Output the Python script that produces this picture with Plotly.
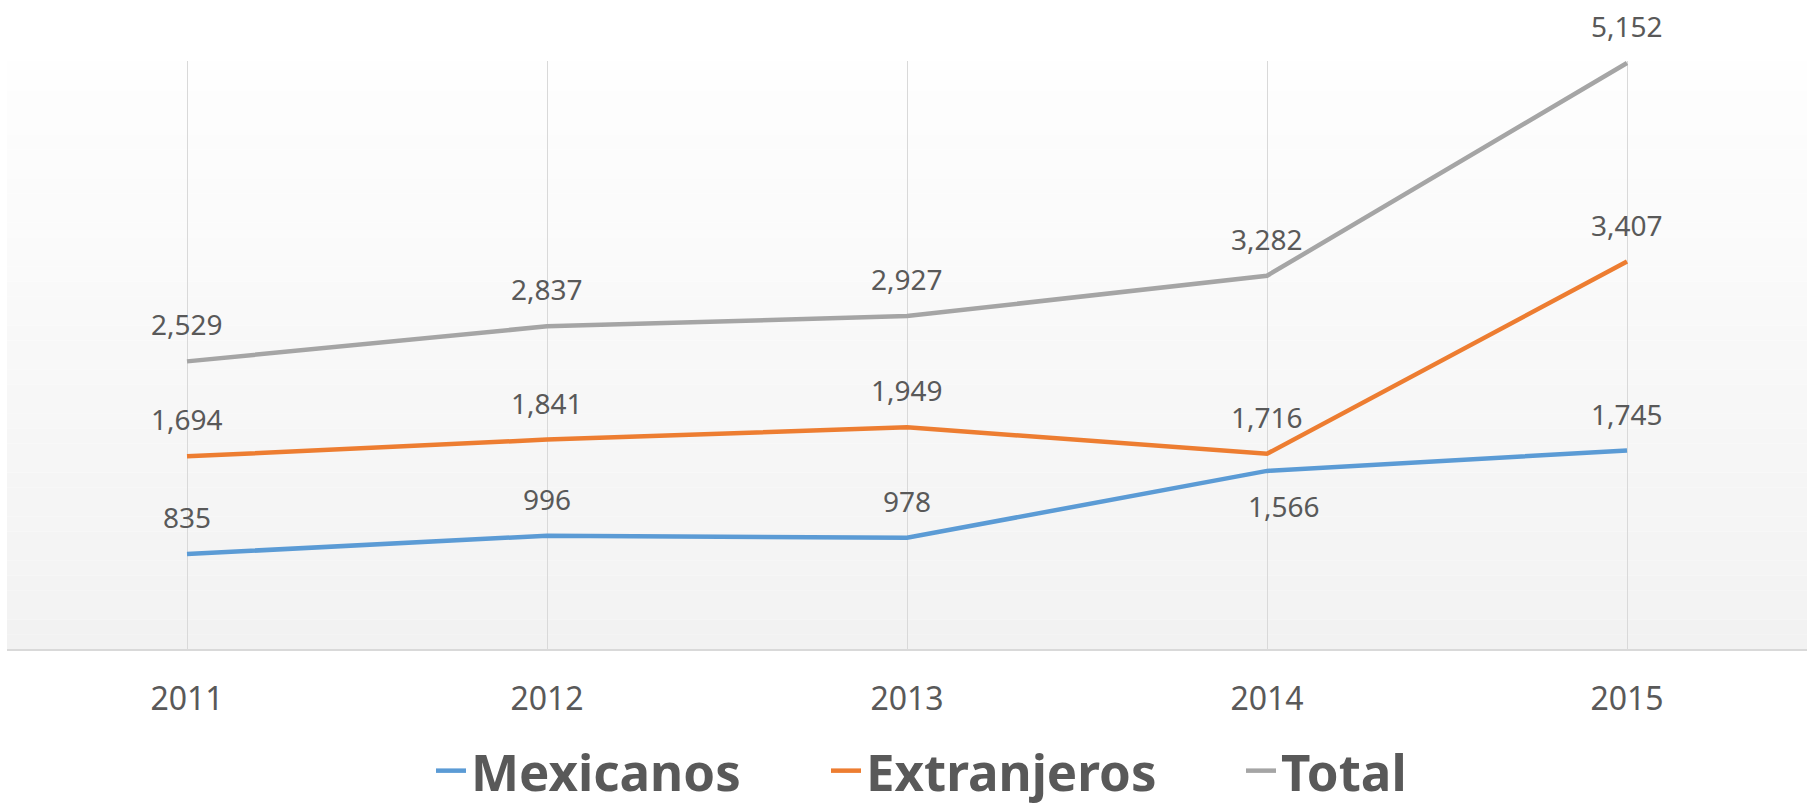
import plotly.graph_objects as go

years = [2011, 2012, 2013, 2014, 2015]
mexicanos = [835, 996, 978, 1566, 1745]
extranjeros = [1694, 1841, 1949, 1716, 3407]
total = [2529, 2837, 2927, 3282, 5152]

series_names = ["Mexicanos", "Extranjeros", "Total"]
series_values = [mexicanos, extranjeros, total]
colors = ["#5B9BD5", "#ED7D31", "#A5A5A5"]
# label placement: +1 above, -1 below
label_side = [
    [1, 1, 1, -1, 1],
    [1, 1, 1, 1, 1],
    [1, 1, 1, 1, 1],
]

TXT = "#595959"
FONT = "Noto Sans"

W, H = 1807, 812
ML, MT, MB = 7, 61, 163
plot_w = W - ML
plot_h = H - MT - MB
baseline = MT + plot_h

legend_ids = ["legend", "legend2", "legend3"]
legend_left_px = [431, 826, 1241]
legend_bottom_px = 811

fig = go.Figure()
for name, vals, col, lid in zip(series_names, series_values, colors, legend_ids):
    fig.add_trace(go.Scatter(
        x=years, y=vals, name=name, mode="lines",
        line=dict(color=col, width=4.5),
        hoverinfo="skip", legend=lid,
    ))

annotations = []
for vals, sides in zip(series_values, label_side):
    for xv, yv, s in zip(years, vals, sides):
        annotations.append(dict(
            x=xv, y=yv, xref="x", yref="y",
            text=f"{yv:,}", showarrow=False,
            font=dict(family=FONT, size=28, color=TXT),
            yshift=37 if s > 0 else -35,
            xshift=0 if s > 0 else 17,
        ))

# vertical gradient background for plot area
shapes = []
n = 40
top_c = (254, 254, 254)
bot_c = (242, 242, 242)
for i in range(n):
    t = (i + 0.5) / n
    c = tuple(round(top_c[k] + (bot_c[k] - top_c[k]) * t) for k in range(3))
    shapes.append(dict(
        type="rect", xref="paper", yref="y domain",
        x0=0, x1=1, y0=1 - (i + 1) / n, y1=1 - i / n,
        fillcolor=f"rgb{c}", line=dict(width=0), layer="below",
    ))

legend_font = dict(family=FONT, size=51, color=TXT, weight="bold")
leg_y = (baseline - legend_bottom_px) / plot_h
legends = {}
for lid, lx in zip(legend_ids, legend_left_px):
    legends[lid] = dict(
        orientation="h", x=(lx - ML) / plot_w, xanchor="left",
        y=leg_y, yanchor="bottom", font=legend_font,
        bgcolor="rgba(0,0,0,0)", borderwidth=0,
    )

fig.update_layout(
    width=W, height=H,
    margin=dict(l=ML, r=0, t=MT, b=MB, pad=0),
    paper_bgcolor="white",
    plot_bgcolor="white",
    showlegend=True,
    annotations=annotations,
    shapes=shapes,
    font=dict(family=FONT, color=TXT),
    **legends,
)
fig.update_xaxes(
    range=[2010.5, 2015.5], tickmode="array", tickvals=years,
    ticktext=[str(y) for y in years],
    showgrid=True, gridcolor="#D9D9D9", gridwidth=1,
    showline=True, linecolor="#D9D9D9", linewidth=2,
    ticks="", ticklabelstandoff=21,
    tickfont=dict(family=FONT, size=32, color=TXT),
    zeroline=False, fixedrange=True,
)
fig.update_yaxes(
    range=[0, 5170], visible=False, showgrid=False, zeroline=False,
)

fig.write_html("out.html", config={"displayModeBar": False})

# remove default page margin so the figure sits at the window origin
with open("out.html", "r", encoding="utf-8") as f:
    html = f.read()
html = html.replace("<body>", '<body style="margin:0;padding:0;overflow:hidden">', 1)
with open("out.html", "w", encoding="utf-8") as f:
    f.write(html)
